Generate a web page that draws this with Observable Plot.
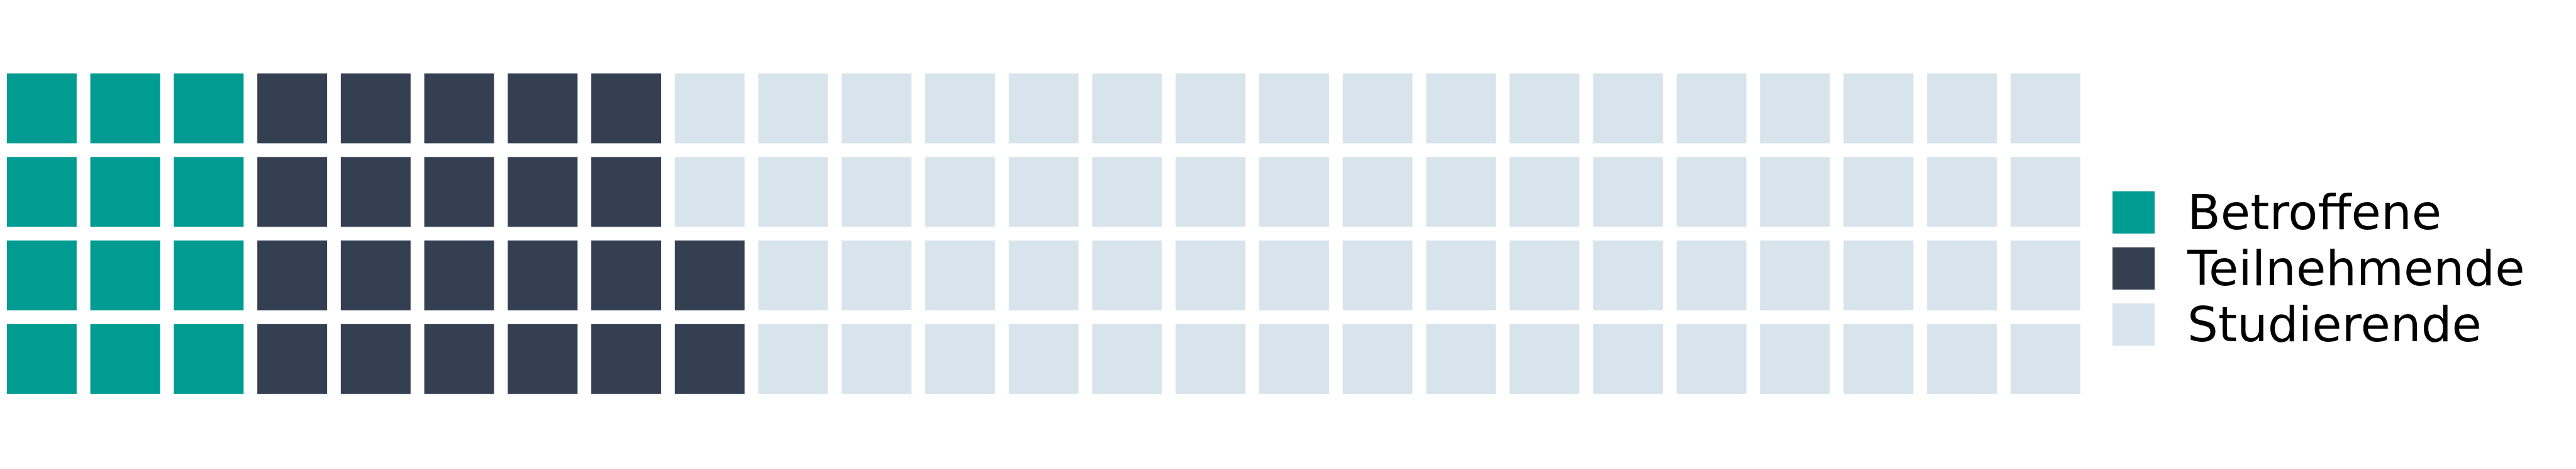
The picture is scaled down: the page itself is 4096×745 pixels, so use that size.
<!DOCTYPE html>
<html><head><meta charset="utf-8">
<script src="https://cdn.jsdelivr.net/npm/d3@7"></script>
<script src="https://cdn.jsdelivr.net/npm/@observablehq/plot@0.6"></script>
<style>
html,body{margin:0;padding:0;background:#fff;width:4096px;height:745px;overflow:hidden}
#wrap{position:relative;width:4096px;height:745px}
#chart{position:absolute;left:0;top:0}
#legend{position:absolute;left:3359px;top:304px;font-family:"DejaVu Sans";font-size:77px;color:#000}
.item{display:flex;align-items:center;height:67px;margin-bottom:22.2px;white-space:nowrap}
.sw{width:67px;height:67px;margin-right:52px;flex:none}
</style>
</head><body>
<div id="wrap"><div id="chart"></div><div id="legend"></div></div>
<script>
const categories = ["Betroffene", "Teilnehmende", "Studierende"];
const counts = [12, 22, 66];
const colors = ["#009b91", "#344052", "#d8e4ec"];
const nRows = 4;
const nCols = 25;

// waffle cells: fill column by column, bottom row first
const cells = [];
let idx = 0;
categories.forEach((c, k) => {
  for (let j = 0; j < counts[k]; j++, idx++) {
    cells.push({col: Math.floor(idx / nRows), row: idx % nRows, cat: c});
  }
});

const chart = Plot.plot({
  width: 3330,
  height: 745,
  marginLeft: 0,
  marginRight: 11.25,
  marginTop: 105.7,
  marginBottom: 108.3,
  x: {type: "band", domain: d3.range(nCols), paddingInner: 0.164, paddingOuter: 0.082, round: false, axis: null},
  y: {type: "band", domain: d3.range(nRows).reverse(), paddingInner: 0.164, paddingOuter: 0.082, round: false, axis: null},
  color: {domain: categories, range: colors},
  style: {background: "#fff"},
  marks: [
    Plot.cell(cells, {x: "col", y: "row", fill: "cat", inset: 0})
  ]
});
document.getElementById("chart").appendChild(chart);

const legend = document.getElementById("legend");
categories.forEach((c, k) => {
  const item = document.createElement("div");
  item.className = "item";
  const sw = document.createElement("div");
  sw.className = "sw";
  sw.style.background = colors[k];
  const t = document.createElement("span");
  t.textContent = c;
  item.appendChild(sw);
  item.appendChild(t);
  legend.appendChild(item);
});
</script>
</body></html>
